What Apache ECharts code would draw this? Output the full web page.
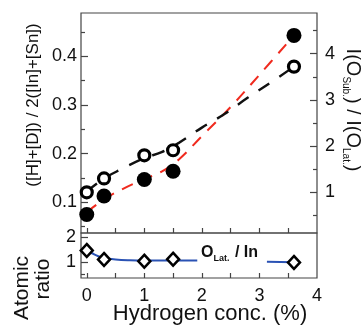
<!DOCTYPE html>
<html>
<head>
<meta charset="utf-8">
<script src="https://cdn.jsdelivr.net/npm/echarts@6/dist/echarts.min.js"></script>
<style>
html,body{margin:0;padding:0;background:#fff;}
#chart{width:361px;height:329px;}
</style>
</head>
<body>
<div id="chart"></div>
<script>
// ---- data ----
var hConc = [0, 0.3, 1.0, 1.5, 3.6];
var hdRatio = [0.075, 0.113, 0.147, 0.164, 0.443];      // filled circles, left axis
var oSubLat = [1.00, 1.30, 1.80, 1.91, 3.72];           // open circles, right axis
var oLatIn = [1.45, 1.09, 1.02, 1.10, 0.97];            // diamonds, bottom panel

var redFitX = [0, 0.3, 0.6, 1.0, 1.3, 1.6, 2.0, 2.5, 3.0, 3.6];
var redFitY = [0.08, 0.106, 0.126, 0.148, 0.163, 0.188, 0.236, 0.296, 0.362, 0.443];
var blackFitX = [0, 0.3, 0.6, 1.0, 1.3, 1.6, 2.0, 2.4, 2.8, 3.2, 3.6];
var blackFitY = [1.02, 1.3, 1.5, 1.74, 1.87, 2.07, 2.4, 2.7, 3.05, 3.38, 3.72];
var blueFitX = [0, 0.1, 0.2, 0.3, 0.5, 0.75, 1.0, 1.5, 1.92, 2.5, 3.13, 3.6];
var blueFitY = [1.45, 1.33, 1.22, 1.15, 1.09, 1.06, 1.05, 1.05, 1.05, null, 1.0, 0.98];

var xTicks = [0, 0.5, 1, 1.5, 2, 2.5, 3, 3.5];
var xLabels = [0, 1, 2, 3, 4];
var leftMajor = [0.1, 0.2, 0.3, 0.4];
var leftMinor = [0.05, 0.15, 0.25, 0.35, 0.45];
var rightMajor = [1, 2, 3, 4];
var rightMinor = [0.5, 1.5, 2.5, 3.5, 4.5];
var botMajor = [1, 2];
var botMinor = [0.5, 1.5];

function pairs(xs, ys) { return xs.map(function (x, i) { return [x, ys[i] === null ? '-' : ys[i]]; }); }

var FONT = 'Liberation Sans, Arial, sans-serif';
var AX = '#444';

function yAx(grid, pos, min, max, ticks, len, labels, fmt, margin) {
  return {
    type: 'value', gridIndex: grid, position: pos, min: min, max: max,
    axisLine: { show: false, onZero: false },
    splitLine: { show: false },
    axisTick: { show: true, inside: true, length: len, customValues: ticks, lineStyle: { color: AX, width: 1.2 } },
    axisLabel: labels ? { show: true, customValues: labels, formatter: fmt, color: '#111', fontSize: 18, fontFamily: FONT, margin: margin } : { show: false }
  };
}

var chart = echarts.init(document.getElementById('chart'), null, { renderer: 'canvas' });
chart.setOption({
  animation: false,
  backgroundColor: '#fff',
  grid: [
    { left: 81, top: 13, width: 236, height: 220, show: true, borderColor: AX, borderWidth: 1.2, backgroundColor: 'transparent' },
    { left: 81, top: 233, width: 236, height: 45, show: true, borderColor: AX, borderWidth: 1.2, backgroundColor: 'transparent' }
  ],
  xAxis: [
    { type: 'value', gridIndex: 0, min: -0.1, max: 4, splitLine: { show: false },
      axisLine: { show: false, onZero: false },
      axisTick: { inside: true, length: 5, customValues: xTicks, lineStyle: { color: AX, width: 1.2 } },
      axisLabel: { show: false } },
    { type: 'value', gridIndex: 1, min: -0.1, max: 4, splitLine: { show: false },
      axisLine: { show: false, onZero: false },
      axisTick: { inside: true, length: 5, customValues: xTicks, lineStyle: { color: AX, width: 1.2 } },
      axisLabel: { customValues: xLabels, color: '#111', fontSize: 18, fontFamily: FONT, margin: 9 } }
  ],
  yAxis: [
    yAx(0, 'left', 0.037, 0.489, leftMajor, 7, leftMajor, function (v) { return v.toFixed(1); }, 4),
    yAx(0, 'left', 0.037, 0.489, leftMinor, 4, null),
    yAx(0, 'right', 0.12, 4.88, rightMajor, 7, rightMajor, function (v) { return String(Math.round(v)); }, 8),
    yAx(0, 'right', 0.12, 4.88, rightMinor, 4, null),
    yAx(1, 'left', 0.35, 2.15, botMajor, 7, botMajor, function (v) { return String(Math.round(v)); }, 5),
    yAx(1, 'left', 0.35, 2.15, botMinor, 4, null)
  ],
  series: [
    { type: 'line', xAxisIndex: 0, yAxisIndex: 0, data: pairs(redFitX, redFitY), smooth: 0.4, symbol: 'none', z: 2,
      lineStyle: { color: '#f02a1e', width: 2, type: [12, 9] } },
    { type: 'line', xAxisIndex: 0, yAxisIndex: 2, data: pairs(blackFitX, blackFitY), smooth: 0.4, symbol: 'none', z: 2,
      lineStyle: { color: '#111', width: 2.4, type: [13, 12] } },
    { type: 'scatter', xAxisIndex: 0, yAxisIndex: 0, data: pairs(hConc, hdRatio), symbol: 'circle', symbolSize: 15, z: 4,
      itemStyle: { color: '#000', opacity: 1 } },
    { type: 'scatter', xAxisIndex: 0, yAxisIndex: 2, data: pairs(hConc, oSubLat), symbol: 'circle', symbolSize: 11, z: 4,
      itemStyle: { color: '#fff', borderColor: '#000', borderWidth: 3.2, opacity: 1 } },
    { type: 'line', xAxisIndex: 1, yAxisIndex: 4, data: pairs(blueFitX, blueFitY), smooth: 0.4, symbol: 'none', connectNulls: false, z: 2,
      lineStyle: { color: '#2a52b4', width: 2 } },
    { type: 'scatter', xAxisIndex: 1, yAxisIndex: 4, data: pairs(hConc, oLatIn), symbol: 'diamond', symbolSize: [12, 13], z: 4,
      itemStyle: { color: '#fff', borderColor: '#000', borderWidth: 2.5, opacity: 1 } }
  ],
  graphic: [
    { type: 'text', x: 33, y: 105, rotation: Math.PI / 2,
      style: { text: '([H]+[D]) / 2([In]+[Sn])', font: '17px ' + FONT, fill: '#111', align: 'center', verticalAlign: 'middle' } },
    { type: 'text', x: 22, y: 288, rotation: Math.PI / 2,
      style: { text: 'Atomic', font: '21px ' + FONT, fill: '#111', align: 'center', verticalAlign: 'middle' } },
    { type: 'text', x: 43, y: 279, rotation: Math.PI / 2,
      style: { text: 'ratio', font: '21px ' + FONT, fill: '#111', align: 'center', verticalAlign: 'middle' } },
    { type: 'text', x: 210, y: 314,
      style: { text: 'Hydrogen conc. (%)', font: '22px ' + FONT, fill: '#111', align: 'center', verticalAlign: 'middle' } },
    { type: 'text', x: 352, y: 110, rotation: -Math.PI / 2,
      style: { text: '{m|I(O}{s|Sub.}{m|) / I(O}{s|Lat.}{m|)}', align: 'center', verticalAlign: 'middle', fill: '#111',
        rich: {
          m: { fontSize: 20, fontFamily: FONT, fill: '#111', verticalAlign: 'top' },
          s: { fontSize: 10, fontFamily: FONT, fill: '#111', verticalAlign: 'top', padding: [12, 0, 0, 0] }
        } } },
    { type: 'text', x: 201, y: 244.5, z: 10,
      style: { text: '{m|O}{s|Lat.}{m| / In}', align: 'left', verticalAlign: 'top', fill: '#111',
        rich: {
          m: { fontSize: 16, fontWeight: 'bold', fontFamily: FONT, fill: '#111', verticalAlign: 'top' },
          s: { fontSize: 9, fontWeight: 'bold', fontFamily: FONT, fill: '#111', verticalAlign: 'top', padding: [10, 1, 0, 0] }
        } } }
  ]
});
</script>
</body>
</html>
